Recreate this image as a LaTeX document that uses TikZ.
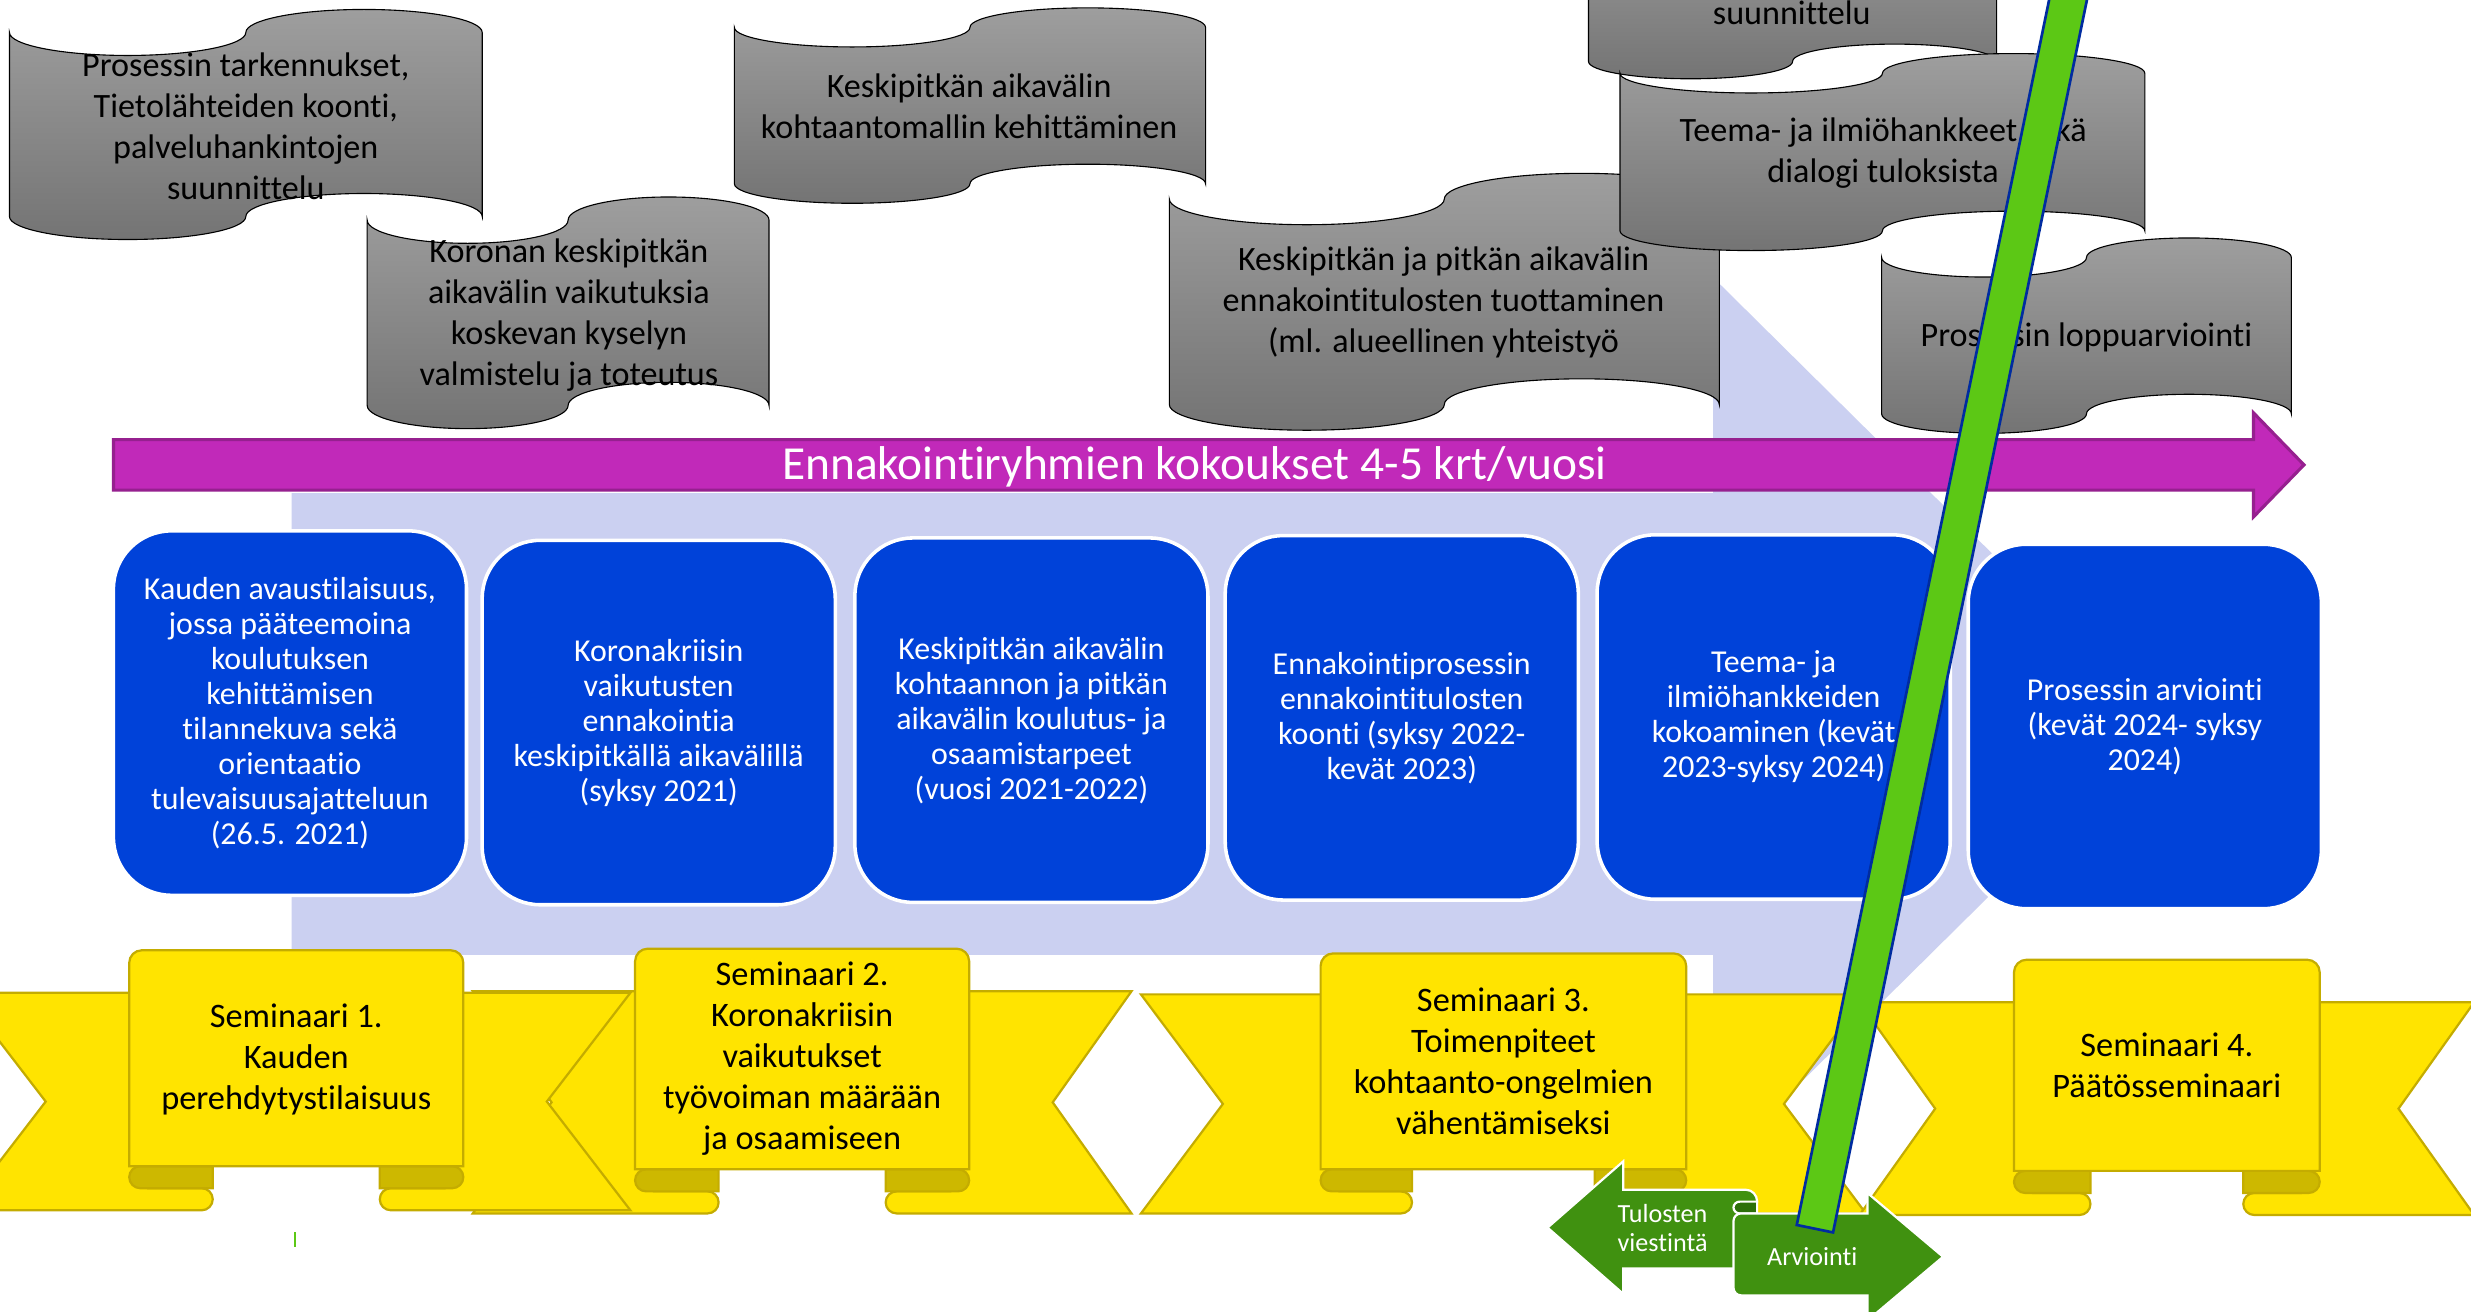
\documentclass[tikz,border=0pt]{standalone}
\usepackage{fontspec}
\setmainfont{Carlito}[Ligatures=NoCommon]
\definecolor{paleblue}{RGB}{203,208,241}
\definecolor{boxblue}{RGB}{0,66,217}
\definecolor{magbar}{RGB}{193,41,185}
\definecolor{magedge}{RGB}{150,32,143}
\definecolor{ribyellow}{RGB}{255,228,0}
\definecolor{ribedge}{RGB}{196,172,0}
\definecolor{ribfold}{RGB}{205,184,0}
\definecolor{arrowgreen}{RGB}{64,145,16}
\definecolor{folddark}{RGB}{45,112,10}
\definecolor{barlime}{RGB}{92,200,21}
\definecolor{baredge}{RGB}{0,44,160}
\definecolor{tapetop}{RGB}{158,158,158}
\definecolor{tapebot}{RGB}{116,116,116}

% punched tape: x0, y0, width, height
\newcommand\tapeshape[4]{%
  \path[tape] (#1,#2+#4/10)
    arc[start angle=180,end angle=0,x radius=#3/4,y radius=#4/10]
    arc[start angle=180,end angle=360,x radius=#3/4,y radius=#4/10]
    -- (#1+#3,#2+#4*0.9)
    arc[start angle=0,end angle=-180,x radius=#3/4,y radius=#4/10]
    arc[start angle=0,end angle=180,x radius=#3/4,y radius=#4/10]
    -- cycle;}

% up ribbon: centre, panel half width, half length, notch, panel top, tail top, bottom
\newcommand\ribbonshape[7]{%
  \path[ribtail] (#1-#3,#6) -- (#1-#2+12,#6) -- (#1-#2+12,#7-14) -- (#1-#2/2-7,#7-14)
    arc[start angle=-90,end angle=90,x radius=7,y radius=7]
    -- (#1-#3,#7) -- (#1-#3+#4,{(#6+#7)/2}) -- cycle;
  \path[ribtail] (#1+#3,#6) -- (#1+#2-12,#6) -- (#1+#2-12,#7-14) -- (#1+#2/2+7,#7-14)
    arc[start angle=-90,end angle=-270,x radius=7,y radius=7]
    -- (#1+#3,#7) -- (#1+#3-#4,{(#6+#7)/2}) -- cycle;
  \path[ribfoldst] (#1-#2/2,#7-28) -- (#1-#2+7,#7-28)
    arc[start angle=-90,end angle=-270,x radius=7,y radius=7] -- (#1-#2/2,#7-14) -- cycle;
  \path[ribfoldst] (#1+#2/2,#7-28) -- (#1+#2-7,#7-28)
    arc[start angle=-90,end angle=90,x radius=7,y radius=7] -- (#1+#2/2,#7-14) -- cycle;
  \path[ribtail] (#1-#2,#7-28) [rounded corners=0.2cm] -- (#1-#2,#5) -- (#1+#2,#5)
    [sharp corners] -- (#1+#2,#7-28) -- cycle;}

\begin{document}
\begin{tikzpicture}[x=0.025cm,y=-0.025cm,
  tape/.style={draw=black,line width=0.5pt,top color=tapetop,bottom color=tapebot},
  tapetext/.style={align=center,inner sep=0pt,font=\fontsize{15.4}{18.5}\selectfont},
  phase/.style={draw=white,line width=1.6pt,fill=boxblue,rounded corners=0.92cm,
    minimum width=5.6cm,minimum height=5.78cm,inner sep=0pt,align=center,
    text=white,font=\fontsize{14.4}{15.8}\selectfont},
  ribtail/.style={fill=ribyellow,draw=ribedge,line width=1pt},
  ribfoldst/.style={fill=ribfold,draw=ribedge,line width=1pt},
  semtext/.style={align=center,inner sep=0pt,font=\fontsize{15.5}{18.5}\selectfont},
  greenarrow/.style={fill=arrowgreen,draw=white,line width=1pt},
  greentext/.style={align=center,inner sep=0pt,text=white,font=\fontsize{11.8}{13.1}\selectfont},
  limebar/.style={draw=baredge,line width=1.2pt,fill=barlime,minimum width=0.5875cm,
    minimum height=20.4cm,inner sep=0pt}]
\useasboundingbox (0,0) rectangle (1568,832);
\clip (0,0) rectangle (1568,832);
\fill[white] (0,0) rectangle (1568,832);

\fill[paleblue] (185,313) -- (1087,313) -- (1087,176) -- (1373,459) -- (1087,742) -- (1087,606) -- (185,606) -- cycle;

\tapeshape{6}{6}{300}{146}
\node[tapetext] (t1) at (156,80) {Prosessin tarkennukset,\\Tietolähteiden koonti,\\palveluhankintojen\\suunnittelu};
\tapeshape{233}{125}{255}{147}
\node[tapetext] (t2) at (361,200) {Koronan keskipitkän\\aikavälin vaikutuksia\\koskevan kyselyn\\valmistelu ja toteutus};
\tapeshape{466}{5}{299}{124}
\node[tapetext] (t3) at (615,67.5) {Keskipitkän aikavälin\\kohtaantomallin kehittäminen};
\tapeshape{742}{110}{349}{163}
\node[tapetext] (t4) at (916,192) {Keskipitkän ja pitkän aikavälin\\ennakointitulosten tuottaminen\\(ml. alueellinen yhteistyö};
\tapeshape{1008}{-60}{259}{110}
\node[tapetext] (t5) at (1137,8) {suunnittelu};
\tapeshape{1028}{34}{333}{125}
\node[tapetext] (t6) at (1195,97) {Teema- ja ilmiöhankkeet sekä\\dialogi tuloksista};
\tapeshape{1194}{151}{260}{124}
\node[tapetext] (t7) at (1324,214) {Prosessin loppuarviointi};

\path[draw=magedge,line width=1.4pt,fill=magbar] (72,279) -- (1430,279) -- (1430,262) -- (1462,295) -- (1430,328) -- (1430,311) -- (72,311) -- cycle;
\node[text=white,inner sep=0pt,font=\fontsize{21.4}{25}\selectfont] (meet) at (758,296) {Ennakointiryhmien kokoukset 4-5 krt/vuosi};

\node[phase] (ph1) at (184,452.5) {Kauden avaustilaisuus,\\jossa pääteemoina\\koulutuksen\\kehittämisen\\tilannekuva sekä\\orientaatio\\tulevaisuusajatteluun\\(26.5. 2021)};
\node[phase] (ph2) at (418,458.5) {Koronakriisin\\vaikutusten\\ennakointia\\keskipitkällä aikavälillä\\(syksy 2021)};
\node[phase] (ph3) at (654.5,457) {Keskipitkän aikavälin\\kohtaannon ja pitkän\\aikavälin koulutus- ja\\osaamistarpeet\\(vuosi 2021-2022)};
\node[phase] (ph4) at (889.5,455.5) {Ennakointiprosessin\\ennakointitulosten\\koonti (syksy 2022-\\kevät 2023)};
\node[phase] (ph5) at (1125.5,455) {Teema- ja\\ilmiöhankkeiden\\kokoaminen (kevät\\2023-syksy 2024)};
\node[phase] (ph6) at (1361,461) {Prosessin arviointi\\(kevät 2024- syksy\\2024)};

\ribbonshape{509}{106}{209}{50}{602}{629}{770}
\ribbonshape{188}{106}{212}{53}{603}{630}{768}
\ribbonshape{954}{116}{230}{52}{605}{631}{770}
\ribbonshape{1375}{97}{195}{48}{609}{636}{771}
\node[semtext] (s1) at (188,672) {Seminaari 1.\\Kauden\\perehdytystilaisuus};
\node[semtext] (s2) at (509,672) {Seminaari 2.\\Koronakriisin\\vaikutukset\\työvoiman määrään\\ja osaamiseen};
\node[semtext] (s3) at (954,673.5) {Seminaari 3.\\Toimenpiteet\\kohtaanto-ongelmien\\vähentämiseksi};
\node[semtext] (s4) at (1375,676) {Seminaari 4.\\Päätösseminaari};

\path[greenarrow] (982,779) -- (1030,737) -- (1030,755) -- (1108,755)
  arc[start angle=-90,end angle=90,x radius=7,y radius=7.5] -- (1108,805) -- (1030,805) -- (1030,821) -- cycle;
\path[greenarrow,fill=folddark] (1115,762.5) -- (1115,770) -- (1104,770)
  arc[start angle=90,end angle=270,x radius=4,y radius=3.75] -- cycle;
\path[greenarrow] (1185,770) -- (1185,757) -- (1233,797.5) -- (1185,838) -- (1185,822)
  [rounded corners=0.12cm] -- (1100,822) -- (1100,770) [sharp corners] -- cycle;
\node[greentext] (tv) at (1055,779) {Tulosten\\viestintä};
\node[greentext] (arv) at (1150,797.5) {Arviointi};

\node[limebar,rotate=-11.64] (bar) at (1234,380) {};
\draw[barlime,line width=0.8pt] (187,782) -- (187,791);
\end{tikzpicture}
\end{document}
